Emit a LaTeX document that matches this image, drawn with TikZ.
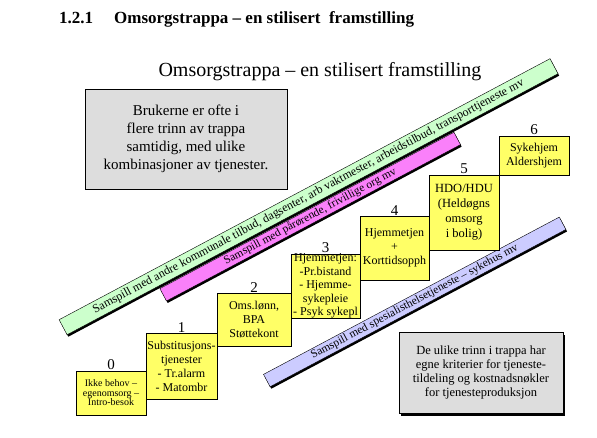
\documentclass[tikz,border=0pt]{standalone}
\usepackage{fontspec}
\setmainfont{Liberation Serif}
\definecolor{StepColor}{RGB}{255,255,102}
\definecolor{NoteColor}{RGB}{221,221,221}
\definecolor{GreenBand}{RGB}{204,255,204}
\definecolor{PinkBand}{RGB}{250,128,250}
\definecolor{BlueBand}{RGB}{204,204,255}
\usetikzlibrary{positioning, shadows}
\tikzstyle{trinn} = [rectangle, draw=black, fill=StepColor, inner sep=0pt, align=center, font=\fontsize{12}{14}\selectfont, drop shadow={shadow xshift=1.2pt, shadow yshift=-1.2pt, fill=black, opacity=1}]
\tikzstyle{trinnnr} = [inner sep=0.5pt, font=\fontsize{15}{15}\selectfont]
\tikzstyle{notat} = [rectangle, draw=black, fill=NoteColor, align=center, inner sep=0pt]
\tikzset{
  band/.style={rectangle, draw=black, inner sep=0pt, rotate=28, font=\fontsize{11.5}{12}\selectfont, drop shadow={shadow xshift=1.2pt, shadow yshift=-2pt, fill=black, opacity=1}},
  bandA/.style={band, fill=GreenBand, minimum width=556pt, minimum height=17pt, font=\fontsize{12}{12}\selectfont},
  bandB/.style={band, fill=PinkBand, minimum width=333pt, minimum height=14pt},
  bandC/.style={band, fill=BlueBand, minimum width=335pt, minimum height=14pt}
}

\begin{document}
\begin{tikzpicture}[x=1pt, y=-1pt]
            \fill[white] (0,0) rectangle (597,438);
            \useasboundingbox (0,0) rectangle (597,438);

            % Headings
            \node[anchor=base west, inner sep=0pt, font=\bfseries\fontsize{17}{20}\selectfont] (overskrift) at (59,24) {1.2.1\hspace{21pt}Omsorgstrappa – en stilisert\ \ framstilling};
            \node[inner sep=0pt, font=\fontsize{20}{24}\selectfont] (tittel) at (320,72) {Omsorgstrappa – en stilisert framstilling};

            % Notes
            \node[notat, minimum width=202pt, minimum height=100pt, font=\fontsize{15}{18}\selectfont] (brukere) at (186,139) {Brukerne er ofte i\\flere trinn av trappa\\samtidig, med ulike\\kombinasjoner av tjenester.};
            \node[notat, minimum width=164pt, minimum height=81pt, font=\fontsize{12.5}{14.3}\selectfont, drop shadow={shadow xshift=1.5pt, shadow yshift=-2.5pt, fill=black, opacity=1}] (kriterier) at (481,372.5) {De ulike trinn i trappa har\\egne kriterier for tjeneste-\\tildeling og kostnadsnøkler\\for tjenesteproduksjon};

            % Bands (pink tucked under green)
            \node[bandB, anchor=north east] (samspillB) at (454,132) {Samspill med pårørende, frivillige org mv};
            \node[bandA, anchor=south west] (samspillA) at (67,335) {Samspill med andre kommunale tilbud, dagsenter, arb vaktmester, arbeidstilbud, transporttjeneste mv};
            \node[bandC, anchor=south west] (samspillC) at (270,387) {Samspill med spesialisthelsetjeneste – sykehus mv};

            % Steps
            \node[trinn, minimum width=70pt, minimum height=44pt, font=\fontsize{10}{9.5}\selectfont] (trinn0) at (111,393) {Ikke behov –\\egenomsorg –\\Intro-besok};
            \node[trinn, minimum width=71pt, minimum height=66pt] (trinn1) at (181.5,366) {Substitusjons-\\tjenester\\- Tr.alarm\\- Matombr};
            \node[trinn, minimum width=74pt, minimum height=53pt] (trinn2) at (254,319.5) {Oms.lønn,\\BPA\\Støttekont};
            \node[trinn, minimum width=69pt, minimum height=64pt, font=\fontsize{12}{13.5}\selectfont] (trinn3) at (325.5,286) {Hjemmetjen:\\-Pr.bistand\\- Hjemme-\\sykepleie\\- Psyk sykepl};
            \node[trinn, minimum width=69pt, minimum height=64pt] (trinn4) at (394.5,248) {Hjemmetjen\\+\\Korttidsopph};
            \node[trinn, minimum width=70pt, minimum height=75pt, font=\fontsize{12.5}{15}\selectfont] (trinn5) at (464,212.5) {HDO/HDU\\(Heldøgns\\omsorg\\i bolig)};
            \node[trinn, minimum width=70pt, minimum height=39pt] (trinn6) at (534,155.5) {Sykehjem\\Aldershjem};

            % Step numbers
            \foreach \i in {0,...,6}
                \node[trinnnr, above=0pt of trinn\i] (nr\i) {\i};
        \end{tikzpicture}
\end{document}
